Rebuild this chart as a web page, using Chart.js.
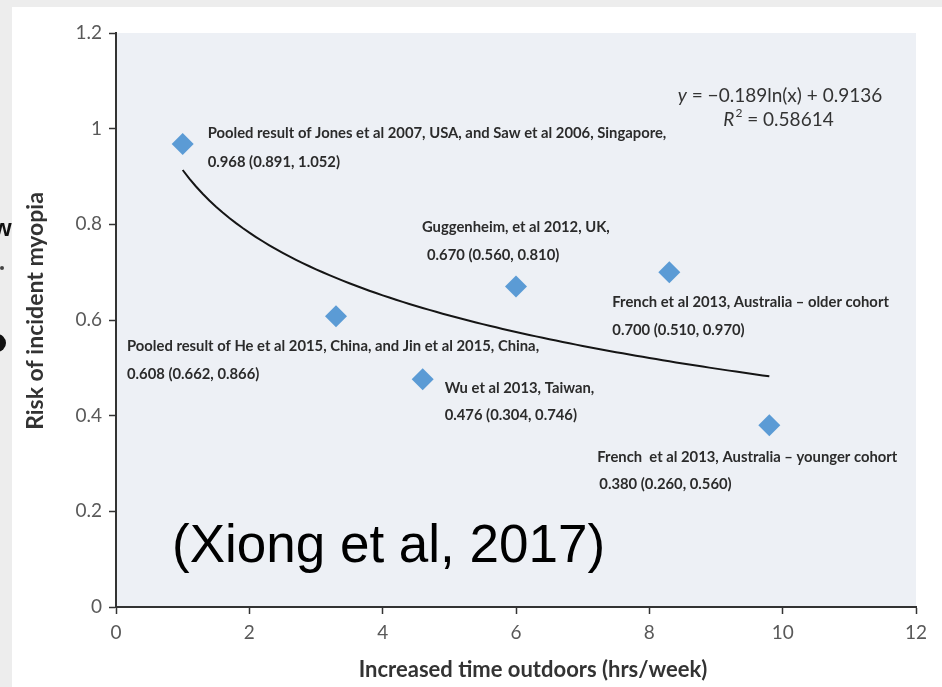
<!DOCTYPE html>
<html>
<head>
<meta charset="utf-8">
<script src="https://cdn.jsdelivr.net/npm/chart.js@4"></script>
<style>
  html, body { margin: 0; padding: 0; background: #ededed; }
  #wrap { position: relative; width: 942px; height: 687px; overflow: hidden; }
  #panel { position: absolute; left: 12px; top: 7px; right: 0; bottom: 0; background: #ffffff; }
  #c { position: absolute; left: 0; top: 0; }
</style>
</head>
<body>
<div id="wrap">
  <div id="panel"></div>
  <canvas id="c" width="942" height="687"></canvas>
</div>
<script>
// Studies: added outdoor time (hrs/week) vs. relative risk of incident myopia
const xHours    = [1.0, 3.3, 4.6, 6.0, 8.3, 9.8];
const riskRatio = [0.968, 0.608, 0.476, 0.670, 0.700, 0.380];
const ciLower   = ['0.891', '0.662', '0.304', '0.560', '0.510', '0.260'];
const ciUpper   = ['1.052', '0.866', '0.746', '0.810', '0.970', '0.560'];
const studyNames = [
  'Pooled result of Jones et al 2007, USA, and Saw et al 2006, Singapore,',
  'Pooled result of He et al 2015, China, and Jin et al 2015, China,',
  'Wu et al 2013, Taiwan,',
  'Guggenheim, et al 2012, UK,',
  'French et al 2013, Australia \u2013 older cohort',
  'French  et al 2013, Australia \u2013 younger cohort'
];

// Logarithmic trend line  y = slope * ln(x) + intercept
const trendSlope     = -0.189;
const trendIntercept = 0.9136;
const trendR2        = '0.58614';
const trendRange     = [1.0, 9.8];

// Axis ticks
const xTickLabels = ['0', '2', '4', '6', '8', '10', '12'];
const yTickLabels = ['0', '0.2', '0.4', '0.6', '0.8', '1', '1.2'];

const xTitle = 'Increased time outdoors (hrs/week)';
const yTitle = 'Risk of incident myopia';
const sourceNote = '(Xiong et al, 2017)';

// Trend samples along the fitted curve
const trendPoints = [];
for (let k = 0; k <= 88; k++) {
  const x = trendRange[0] + (trendRange[1] - trendRange[0]) * k / 88;
  trendPoints.push({ x: x, y: trendIntercept + trendSlope * Math.log(x) });
}

// Label placement relative to each marker (pixels): [dx1, dy1, dx2, dy2]
const labelOffsets = [
  [25, -11, 25, 18],
  [-209, 30, -209, 58],
  [22, 9, 22, 36],
  [-94, -59, -89, -31],
  [-57, 30, -57, 58],
  [-172, 32, -170, 59]
];

const labelFont = 'bold 14.8px Lato';
const tickFont = { family: 'Lato', size: 19 };

const plotBackground = {
  id: 'plotBackground',
  beforeDraw(chart) {
    const { ctx, chartArea: a } = chart;
    ctx.save();
    ctx.fillStyle = '#edf0f5';
    ctx.fillRect(a.left, a.top, a.right - a.left, a.bottom - a.top);
    ctx.restore();
  }
};

const annotations = {
  id: 'annotations',
  afterDraw(chart) {
    const { ctx } = chart;
    const xs = chart.scales.x, ys = chart.scales.y;
    ctx.save();

    // study labels
    ctx.fillStyle = '#2b2b2b';
    ctx.font = labelFont;
    ctx.textAlign = 'left';
    ctx.textBaseline = 'middle';
    xHours.forEach((x, i) => {
      const px = xs.getPixelForValue(x);
      const py = ys.getPixelForValue(riskRatio[i]);
      const o = labelOffsets[i];
      ctx.fillText(studyNames[i], px + o[0], py + o[1]);
      const valueText = riskRatio[i].toFixed(3) + ' (' + ciLower[i] + ', ' + ciUpper[i] + ')';
      ctx.fillText(valueText, px + o[2], py + o[3]);
    });

    // trend equation
    ctx.fillStyle = '#333333';
    ctx.textBaseline = 'middle';
    const eqRest = ' = \u2212' + Math.abs(trendSlope) + 'ln(x) + ' + trendIntercept;
    ctx.font = 'italic 19px Lato';
    const wy = ctx.measureText('y').width;
    ctx.font = '19px Lato';
    const wr = ctx.measureText(eqRest).width;
    const eqCx = 780, eqY = 96;
    let sx = eqCx - (wy + wr) / 2;
    ctx.font = 'italic 19px Lato';
    ctx.fillText('y', sx, eqY);
    ctx.font = '19px Lato';
    ctx.fillText(eqRest, sx + wy, eqY);

    const r2Rest = ' = ' + trendR2;
    ctx.font = 'italic 19px Lato';
    const wR = ctx.measureText('R').width;
    ctx.font = '12px Lato';
    const w2 = ctx.measureText('2').width;
    ctx.font = '19px Lato';
    const wr2 = ctx.measureText(r2Rest).width;
    const r2Y = 120;
    sx = eqCx - 2 - (wR + w2 + wr2) / 2;
    ctx.font = 'italic 19px Lato';
    ctx.fillText('R', sx, r2Y);
    ctx.font = '12px Lato';
    ctx.fillText('2', sx + wR + 1, r2Y - 7);
    ctx.font = '19px Lato';
    ctx.fillText(r2Rest, sx + wR + w2 + 1, r2Y);

    // source note
    ctx.fillStyle = '#000000';
    ctx.font = '53px "Liberation Sans"';
    ctx.textBaseline = 'alphabetic';
    ctx.fillText(sourceNote, 172, 562);

    // axis titles
    ctx.fillStyle = '#333333';
    ctx.font = 'bold 22px Lato';
    ctx.textAlign = 'center';
    ctx.textBaseline = 'middle';
    ctx.fillText(xTitle, 533, 670);
    ctx.translate(36, 311);
    ctx.rotate(-Math.PI / 2);
    ctx.font = 'bold 23px Lato';
    ctx.fillText(yTitle, 0, 0);
    ctx.restore();

    // fragments along the left edge
    ctx.save();
    ctx.fillStyle = '#111111';
    ctx.font = 'bold 24px "Liberation Sans"';
    ctx.textAlign = 'left';
    ctx.textBaseline = 'alphabetic';
    ctx.fillText('w', -7, 236);
    ctx.beginPath();
    ctx.arc(-3, 343, 9, 0, Math.PI * 2);
    ctx.fill();
    ctx.fillStyle = '#444444';
    ctx.beginPath();
    ctx.arc(2, 268, 2, 0, Math.PI * 2);
    ctx.fill();
    ctx.restore();
  }
};

new Chart(document.getElementById('c').getContext('2d'), {
  type: 'scatter',
  data: {
    datasets: [
      {
        label: 'Studies',
        data: xHours.map((x, i) => ({ x: x, y: riskRatio[i] })),
        pointStyle: 'rectRot',
        pointRadius: 11,
        backgroundColor: '#5b9bd5',
        borderColor: '#5b9bd5',
        borderWidth: 0,
        order: 1
      },
      {
        label: 'Log trend',
        data: trendPoints,
        showLine: true,
        pointRadius: 0,
        borderColor: '#151515',
        borderWidth: 2,
        fill: false,
        tension: 0,
        order: 2
      }
    ]
  },
  options: {
    responsive: false,
    animation: false,
    events: [],
    layout: { padding: { left: 0, top: 33, right: 26, bottom: 0 } },
    plugins: { legend: { display: false }, tooltip: { enabled: false } },
    scales: {
      x: {
        type: 'linear',
        min: 0, max: 12,
        afterFit(s) { s.height = 80; },
        ticks: {
          stepSize: 2,
          color: '#595959',
          font: tickFont,
          padding: 7,
          maxRotation: 0,
          callback: (v, i) => xTickLabels[i]
        },
        grid: { drawOnChartArea: false, tickLength: 7, tickColor: '#333333', tickWidth: 1.5 },
        border: { color: '#333333', width: 2 }
      },
      y: {
        type: 'linear',
        min: 0, max: 1.2,
        afterFit(s) { s.width = 116; },
        ticks: {
          stepSize: 0.2,
          color: '#595959',
          font: tickFont,
          padding: 7,
          callback: (v, i) => yTickLabels[i]
        },
        grid: { drawOnChartArea: false, tickLength: 7, tickColor: '#333333', tickWidth: 1.5 },
        border: { color: '#333333', width: 2 }
      }
    }
  },
  plugins: [plotBackground, annotations]
});
</script>
</body>
</html>
